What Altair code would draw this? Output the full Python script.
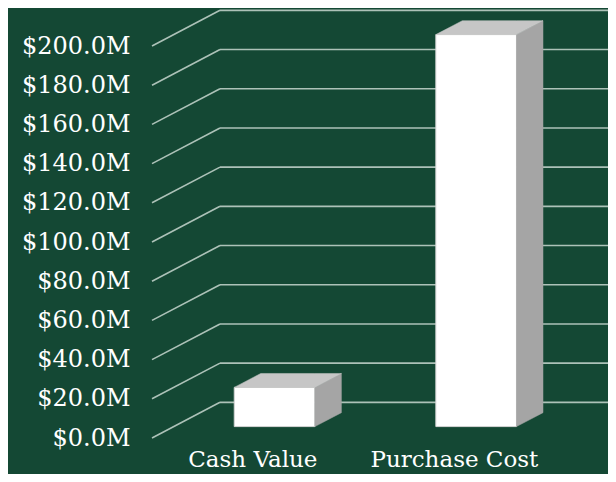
import altair as alt
import pandas as pd

# ---- data ----
categories = ["Cash Value", "Purchase Cost"]
values_m = [20.0, 200.0]          # $ millions
tick_values = [0, 20, 40, 60, 80, 100, 120, 140, 160, 180, 200]

# ---- layout / 3D geometry (in scale units) ----
W, H = 456, 430
PX_PER_M = 1.96
YMAX = H / PX_PER_M
SLOT_PX = 201.6
XMAX = W / SLOT_PX
DX = 68 / SLOT_PX          # depth offset in x units
DY = 18.2                  # depth offset in y units ($M)
BW = 0.4                   # bar width (slot units)
F0, F1 = 0.32, 0.71        # bar front/back position along depth

BG = "#144834"
GRID = "#adc2b8"
FONT = "DejaVu Serif"

xs = alt.Scale(domain=[0, XMAX], nice=False, zero=False)
ys = alt.Scale(domain=[0, YMAX], nice=False, zero=False)
yaxis = alt.Axis(values=tick_values, labelExpr="'$' + format(datum.value, '.1f') + 'M'",
                 grid=False, domain=False, ticks=False, labelPadding=22,
                 labelFont=FONT, labelFontSize=24, labelColor="#ffffff", title=None)

# gridlines
diag = pd.DataFrame({"v": tick_values})
diag["x"] = 0.0
diag["x2"] = DX
diag["y2"] = diag["v"] + DY
back = pd.DataFrame({"v": [t + DY for t in tick_values]})
back["x"] = DX
back["x2"] = XMAX

diag_layer = alt.Chart(diag).mark_rule(color=GRID, strokeWidth=1.6).encode(
    x=alt.X("x:Q", scale=xs, axis=None), x2="x2:Q",
    y=alt.Y("v:Q", scale=ys, axis=yaxis), y2="y2:Q")
back_layer = alt.Chart(back).mark_rule(color=GRID, strokeWidth=1.6).encode(
    x=alt.X("x:Q", scale=xs, axis=None), x2="x2:Q",
    y=alt.Y("v:Q", scale=ys, axis=yaxis))

# bars
front_rows, side_rows, top_rows = [], [], []
for i, (c, v) in enumerate(zip(categories, values_m)):
    x0 = i + 0.5 - BW / 2 + F0 * DX
    x1 = x0 + BW
    yb = F0 * DY
    yt = v + F0 * DY
    ddx = (F1 - F0) * DX
    dd = (F1 - F0) * DY
    front_rows.append({"cat": c, "x": x0, "x2": x1, "y": yb, "y2": yt})
    side_rows += [{"cat": c, "x": x1, "y": yb, "y2": yt},
                  {"cat": c, "x": x1 + ddx, "y": yb + dd, "y2": yt + dd}]
    top_rows += [{"cat": c, "x": x0, "y": yt, "y2": yt},
                 {"cat": c, "x": x0 + ddx, "y": yt, "y2": yt + dd},
                 {"cat": c, "x": x1, "y": yt, "y2": yt + dd},
                 {"cat": c, "x": x1 + ddx, "y": yt + dd, "y2": yt + dd}]

front_layer = alt.Chart(pd.DataFrame(front_rows)).mark_rect(
    color="#ffffff", stroke="#d4d4d4", strokeWidth=1).encode(
    x=alt.X("x:Q", scale=xs, axis=None), x2="x2:Q",
    y=alt.Y("y:Q", scale=ys, axis=yaxis), y2="y2:Q")
side_layer = alt.Chart(pd.DataFrame(side_rows)).mark_area(
    color="#a5a5a5", stroke="#a5a5a5", strokeWidth=0.5).encode(
    x=alt.X("x:Q", scale=xs, axis=None),
    y=alt.Y("y:Q", scale=ys, axis=yaxis, stack=None), y2="y2:Q", detail="cat:N")
top_layer = alt.Chart(pd.DataFrame(top_rows)).mark_area(
    color="#c6c6c6", stroke="#c6c6c6", strokeWidth=0.5).encode(
    x=alt.X("x:Q", scale=xs, axis=None),
    y=alt.Y("y:Q", scale=ys, axis=yaxis, stack=None), y2="y2:Q", detail="cat:N")

labels = pd.DataFrame({"cat": categories, "x": [i + 0.5 for i in range(len(categories))],
                       "y": [0.0] * len(categories)})
label_layer = alt.Chart(labels).mark_text(
    font=FONT, fontSize=23, color="#ffffff", baseline="alphabetic", align="center", dy=29).encode(
    x=alt.X("x:Q", scale=xs, axis=None),
    y=alt.Y("y:Q", scale=ys, axis=yaxis), text="cat:N")

chart = alt.layer(diag_layer, back_layer, front_layer, side_layer, top_layer, label_layer).properties(
    width=W, height=H, autosize="none",
    padding={"left": 144, "top": 0, "right": 0, "bottom": 36},
    background=BG,
).configure_view(stroke=None)

chart.save("out.html", embed_options={"renderer": "svg", "actions": False})
